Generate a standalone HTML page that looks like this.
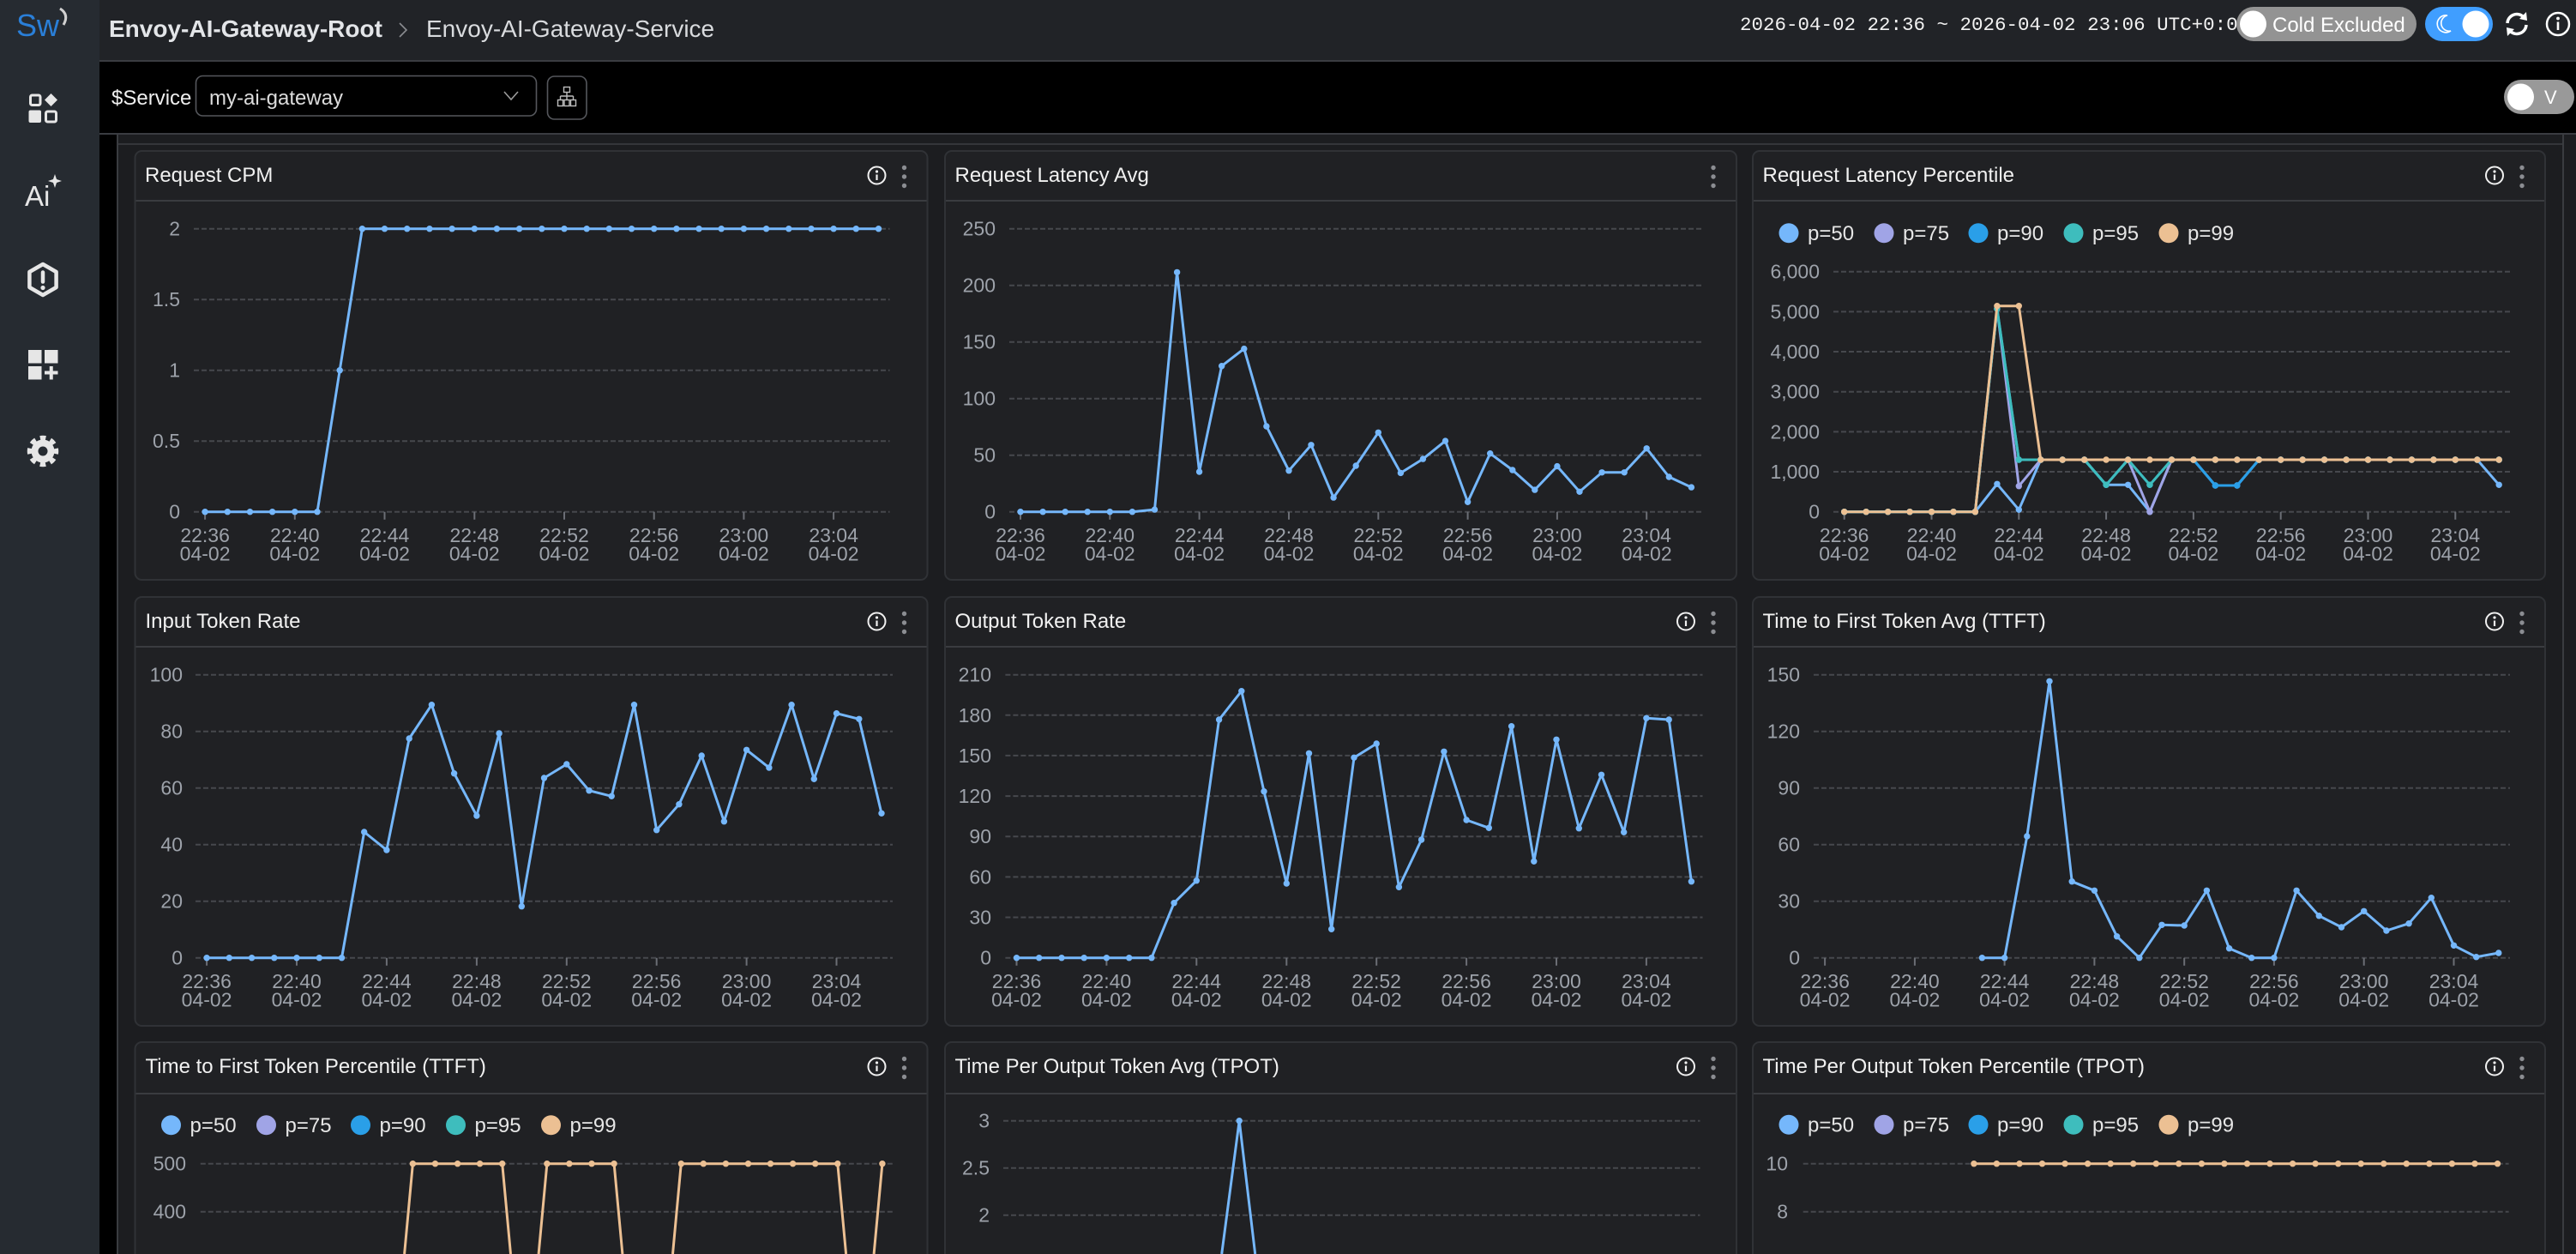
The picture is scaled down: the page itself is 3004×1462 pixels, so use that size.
<!DOCTYPE html>
<html><head><meta charset="utf-8"><style>
html,body{margin:0;padding:0;background:#000;width:3004px;height:1462px;overflow:hidden}
svg{display:block}
text{font-family:"Liberation Sans",Arial,sans-serif}
.t{font-size:24px;fill:#f1f1f1}
.ar{font-size:23px;fill:#9da2aa;text-anchor:end}
.am{font-size:23px;fill:#9da2aa;text-anchor:middle}
.g{stroke:#46484d;stroke-width:2;stroke-dasharray:6 3;fill:none}
.k{stroke:#6b6e75;stroke-width:2;fill:none}
.lg{font-size:24px;fill:#e6e6e6}
.pn{fill:#202124;stroke:#303236;stroke-width:2}
.sp{fill:#3a3c40}
.s1{fill:none;stroke:#75b7fb;stroke-width:3;stroke-linejoin:round;marker-start:url(#m1);marker-mid:url(#m1);marker-end:url(#m1)}
.s2{fill:none;stroke:#a0a4e6;stroke-width:3;stroke-linejoin:round;marker-start:url(#m2);marker-mid:url(#m2);marker-end:url(#m2)}
.s3{fill:none;stroke:#2a9fe8;stroke-width:3;stroke-linejoin:round;marker-start:url(#m3);marker-mid:url(#m3);marker-end:url(#m3)}
.s4{fill:none;stroke:#3ebdbd;stroke-width:3;stroke-linejoin:round;marker-start:url(#m4);marker-mid:url(#m4);marker-end:url(#m4)}
.s5{fill:none;stroke:#ecc093;stroke-width:3;stroke-linejoin:round;marker-start:url(#m5);marker-mid:url(#m5);marker-end:url(#m5)}
.l5{fill:none;stroke:#ecc093;stroke-width:3;stroke-linejoin:round}
.l1{fill:none;stroke:#75b7fb;stroke-width:3;stroke-linejoin:round}
</style></head><body>
<svg width="3004" height="1462" viewBox="0 0 3004 1462" xmlns="http://www.w3.org/2000/svg">
<defs>
<marker id="m1" viewBox="0 0 10 10" refX="5" refY="5" markerWidth="10" markerHeight="10" markerUnits="userSpaceOnUse"><circle cx="5" cy="5" r="3.7" fill="#75b7fb"/></marker>
<marker id="m2" viewBox="0 0 10 10" refX="5" refY="5" markerWidth="10" markerHeight="10" markerUnits="userSpaceOnUse"><circle cx="5" cy="5" r="3.7" fill="#a0a4e6"/></marker>
<marker id="m3" viewBox="0 0 10 10" refX="5" refY="5" markerWidth="10" markerHeight="10" markerUnits="userSpaceOnUse"><circle cx="5" cy="5" r="3.7" fill="#2a9fe8"/></marker>
<marker id="m4" viewBox="0 0 10 10" refX="5" refY="5" markerWidth="10" markerHeight="10" markerUnits="userSpaceOnUse"><circle cx="5" cy="5" r="3.7" fill="#3ebdbd"/></marker>
<marker id="m5" viewBox="0 0 10 10" refX="5" refY="5" markerWidth="10" markerHeight="10" markerUnits="userSpaceOnUse"><circle cx="5" cy="5" r="3.7" fill="#ecc093"/></marker>
<g id="inf"><circle r="10" fill="none" stroke="#f0f0f0" stroke-width="2"/><circle cy="-4.5" r="1.6" fill="#f0f0f0"/><path d="M0 -1V5.5" stroke="#f0f0f0" stroke-width="2.2"/></g>
<g id="dt"><circle cy="-10.5" r="2.7" fill="#8b8d92"/><circle r="2.7" fill="#8b8d92"/><circle cy="10.5" r="2.7" fill="#8b8d92"/></g>
</defs>

<!-- backgrounds -->
<rect width="3004" height="1462" fill="#000"/>
<rect x="0" y="0" width="116" height="1462" fill="#262b31"/>
<rect x="116" y="0" width="2888" height="70" fill="#212327"/>
<rect x="116" y="70" width="2888" height="2" fill="#3a3c41"/>
<rect x="116" y="155" width="2888" height="2" fill="#3a3c41"/>
<rect x="136" y="157" width="2868" height="1305" fill="#1c1d20"/>
<rect x="136" y="157" width="2" height="1305" fill="#3a3c40"/>
<rect x="138" y="167" width="2851" height="2" fill="#34363a"/>
<rect x="2988" y="157" width="2" height="1305" fill="#3a3c40"/>

<!-- sidebar -->
<text x="19" y="42" style="font-size:36px;fill:#2a7fd8;font-family:'Liberation Sans',Arial,sans-serif">Sw</text>
<path d="M70 10 Q81 17 74 29" stroke="#d0d0d0" stroke-width="3" fill="none"/>
<rect x="35.5" y="111" width="11.5" height="11.5" rx="2" fill="none" stroke="#e6e6e6" stroke-width="3"/>
<path d="M59.5 109 L67 116.5 L59.5 124 L52 116.5Z" fill="#e6e6e6"/>
<rect x="33.5" y="128.5" width="14.5" height="14.5" rx="2" fill="#e6e6e6"/>
<rect x="53.5" y="130" width="12" height="12" rx="2" fill="none" stroke="#e6e6e6" stroke-width="3"/>
<text x="29" y="240" style="font-size:33px;fill:#e6e6e6">Ai</text>
<path d="M64 203 L66 209 L72 211 L66 213 L64 219 L62 213 L56 211 L62 209Z" fill="#e6e6e6"/>
<path d="M50 308 L65.6 317 L65.6 335 L50 344 L34.4 335 L34.4 317Z" fill="none" stroke="#e6e6e6" stroke-width="4.5" stroke-linejoin="round"/>
<path d="M50 317.5V328.5" stroke="#e6e6e6" stroke-width="4.5" stroke-linecap="round"/>
<circle cx="50" cy="335.5" r="2.6" fill="#e6e6e6"/>
<rect x="33" y="408" width="15.5" height="15.5" fill="#e6e6e6"/>
<rect x="52" y="408" width="15.5" height="15.5" fill="#e6e6e6"/>
<rect x="33" y="427" width="15.5" height="15.5" fill="#e6e6e6"/>
<path d="M52 434.5H67.5M59.75 427V442.5" stroke="#e6e6e6" stroke-width="4"/>
<circle cx="50" cy="526" r="15.5" fill="none" stroke="#e6e6e6" stroke-width="5.5" stroke-dasharray="6.5 5.67" stroke-dashoffset="3.25"/>
<circle cx="50" cy="526" r="13.5" fill="#e6e6e6"/>
<circle cx="50" cy="526" r="5.5" fill="#262b31"/>

<!-- header -->
<text x="127" y="43" style="font-size:28px;font-weight:bold;fill:#e3e5e8">Envoy-AI-Gateway-Root</text>
<path d="M466 27 L474 35 L466 43" stroke="#8a8c90" stroke-width="1.6" fill="none"/>
<text x="497" y="43" style="font-size:28px;fill:#d9dbde">Envoy-AI-Gateway-Service</text>
<text x="2029" y="35" style="font-size:22.5px;fill:#f2f2f2;font-family:'Liberation Mono',monospace">2026-04-02 22:36 ~ 2026-04-02 23:06 UTC+0:0</text>
<rect x="2608" y="8" width="210" height="40" rx="20" fill="#939393"/>
<circle cx="2627.5" cy="28" r="15.5" fill="#fff"/>
<text x="2650" y="37" style="font-size:24px;fill:#fff">Cold Excluded</text>
<rect x="2828" y="8" width="79" height="40" rx="20" fill="#409eff"/>
<path d="M2854 18 A10 10 0 1 0 2858 36 A8 8 0 1 1 2854 18Z" fill="none" stroke="#fff" stroke-width="1.6"/>
<circle cx="2887" cy="28" r="15.5" fill="#fff"/>
<path d="M2924 27 A11 11 0 0 1 2943 20" stroke="#fff" stroke-width="3.5" fill="none"/>
<path d="M2946 14 L2947 24 L2938 22Z" fill="#fff"/>
<path d="M2946 29 A11 11 0 0 1 2927 36" stroke="#fff" stroke-width="3.5" fill="none"/>
<path d="M2924 42 L2923 32 L2932 34Z" fill="#fff"/>
<circle cx="2983" cy="28" r="13" fill="none" stroke="#fff" stroke-width="2.5"/>
<circle cx="2983" cy="21.5" r="1.9" fill="#fff"/>
<path d="M2983 25.5V35" stroke="#fff" stroke-width="2.6"/>

<!-- toolbar -->
<text x="130" y="122" style="font-size:24px;fill:#f0f0f0">$Service</text>
<rect x="228.5" y="88.5" width="397" height="46.5" rx="8" fill="#000" stroke="#55575c" stroke-width="1.6"/>
<text x="244" y="122" style="font-size:24px;fill:#dcdcdc">my-ai-gateway</text>
<path d="M588 107 L596 116 L604 107" stroke="#9a9a9a" stroke-width="1.6" fill="none"/>
<rect x="638.5" y="89" width="45.5" height="50" rx="8" fill="#000" stroke="#55575c" stroke-width="1.6"/>
<g stroke="#bdbdbd" stroke-width="1.4" fill="none">
<rect x="657.5" y="101.5" width="7" height="6"/>
<path d="M661 107.5V112M653.5 112H668.5M653.5 112V116M661 112V116M668.5 112V116"/>
<rect x="650.5" y="116.5" width="6" height="7"/><rect x="658" y="116.5" width="6" height="7"/><rect x="665.5" y="116.5" width="6" height="7"/>
</g>
<rect x="2920" y="93" width="82" height="40" rx="20" fill="#999"/>
<circle cx="2939.5" cy="113" r="15.5" fill="#fff"/>
<text x="2967" y="121" style="font-size:22px;fill:#fff">V</text>

<!-- panels -->
<rect class="pn" x="157.5" y="176" width="924" height="500" rx="8"/>
<rect class="pn" x="1102" y="176" width="923" height="500" rx="8"/>
<rect class="pn" x="2044" y="176" width="924" height="500" rx="8"/>
<rect class="pn" x="157.5" y="696" width="924" height="500" rx="8"/>
<rect class="pn" x="1102" y="696" width="923" height="500" rx="8"/>
<rect class="pn" x="2044" y="696" width="924" height="500" rx="8"/>
<path class="pn" d="M157.5 1462V1223A8 8 0 0 1 165.5 1215H1073.5A8 8 0 0 1 1081.5 1223V1462"/>
<path class="pn" d="M1102 1462V1223A8 8 0 0 1 1110 1215H2017A8 8 0 0 1 2025 1223V1462"/>
<path class="pn" d="M2044 1462V1223A8 8 0 0 1 2052 1215H2960A8 8 0 0 1 2968 1223V1462"/>
<rect class="sp" x="158.5" y="233" width="922" height="2"/>
<rect class="sp" x="1103" y="233" width="921" height="2"/>
<rect class="sp" x="2045" y="233" width="922" height="2"/>
<rect class="sp" x="158.5" y="753" width="922" height="2"/>
<rect class="sp" x="1103" y="753" width="921" height="2"/>
<rect class="sp" x="2045" y="753" width="922" height="2"/>
<rect class="sp" x="158.5" y="1274" width="922" height="2"/>
<rect class="sp" x="1103" y="1274" width="921" height="2"/>
<rect class="sp" x="2045" y="1274" width="922" height="2"/>

<text class="t" x="169" y="212">Request CPM</text>
<text class="t" x="1113.5" y="212">Request Latency Avg</text>
<text class="t" x="2055.5" y="212">Request Latency Percentile</text>
<text class="t" x="169.5" y="732">Input Token Rate</text>
<text class="t" x="1113.5" y="732">Output Token Rate</text>
<text class="t" x="2055.5" y="732">Time to First Token Avg (TTFT)</text>
<text class="t" x="169.5" y="1251">Time to First Token Percentile (TTFT)</text>
<text class="t" x="1113.5" y="1251">Time Per Output Token Avg (TPOT)</text>
<text class="t" x="2055.5" y="1251">Time Per Output Token Percentile (TPOT)</text>

<use href="#inf" x="1022.5" y="204.5"/><use href="#dt" x="1054.5" y="206"/>
<use href="#dt" x="1998" y="206"/>
<use href="#inf" x="2909" y="204.5"/><use href="#dt" x="2941" y="206"/>
<use href="#inf" x="1022.5" y="724.5"/><use href="#dt" x="1054.5" y="726"/>
<use href="#inf" x="1966" y="724.5"/><use href="#dt" x="1998" y="726"/>
<use href="#inf" x="2909" y="724.5"/><use href="#dt" x="2941" y="726"/>
<use href="#inf" x="1022.5" y="1243.5"/><use href="#dt" x="1054.5" y="1245"/>
<use href="#inf" x="1966" y="1243.5"/><use href="#dt" x="1998" y="1245"/>
<use href="#inf" x="2909" y="1243.5"/><use href="#dt" x="2941" y="1245"/>

<!-- legends -->
<g>
<circle cx="2086" cy="271.7" r="11.5" fill="#75b7fb"/><text class="lg" x="2108" y="280">p=50</text>
<circle cx="2197" cy="271.7" r="11.5" fill="#a0a4e6"/><text class="lg" x="2219" y="280">p=75</text>
<circle cx="2307" cy="271.7" r="11.5" fill="#2a9fe8"/><text class="lg" x="2329" y="280">p=90</text>
<circle cx="2418" cy="271.7" r="11.5" fill="#3ebdbd"/><text class="lg" x="2440" y="280">p=95</text>
<circle cx="2529" cy="271.7" r="11.5" fill="#ecc093"/><text class="lg" x="2551" y="280">p=99</text>
</g>
<g>
<circle cx="199.5" cy="1311.7" r="11.5" fill="#75b7fb"/><text class="lg" x="221.5" y="1320">p=50</text>
<circle cx="310.5" cy="1311.7" r="11.5" fill="#a0a4e6"/><text class="lg" x="332.5" y="1320">p=75</text>
<circle cx="420.5" cy="1311.7" r="11.5" fill="#2a9fe8"/><text class="lg" x="442.5" y="1320">p=90</text>
<circle cx="531.5" cy="1311.7" r="11.5" fill="#3ebdbd"/><text class="lg" x="553.5" y="1320">p=95</text>
<circle cx="642.5" cy="1311.7" r="11.5" fill="#ecc093"/><text class="lg" x="664.5" y="1320">p=99</text>
</g>
<g>
<circle cx="2086" cy="1311.2" r="11.5" fill="#75b7fb"/><text class="lg" x="2108" y="1319.5">p=50</text>
<circle cx="2197" cy="1311.2" r="11.5" fill="#a0a4e6"/><text class="lg" x="2219" y="1319.5">p=75</text>
<circle cx="2307" cy="1311.2" r="11.5" fill="#2a9fe8"/><text class="lg" x="2329" y="1319.5">p=90</text>
<circle cx="2418" cy="1311.2" r="11.5" fill="#3ebdbd"/><text class="lg" x="2440" y="1319.5">p=95</text>
<circle cx="2529" cy="1311.2" r="11.5" fill="#ecc093"/><text class="lg" x="2551" y="1319.5">p=99</text>
</g>

<!-- P1 -->
<path class="g" d="M226 266.7H1037.5M226 349.2H1037.5M226 431.7H1037.5M226 514.2H1037.5M226 596.7H1037.5"/>
<path class="k" d="M239.1 596.7v9M343.8 596.7v9M448.5 596.7v9M553.3 596.7v9M658 596.7v9M762.7 596.7v9M867.4 596.7v9M972.1 596.7v9"/>
<text class="ar" x="210" y="274.7">2</text><text class="ar" x="210" y="357.2">1.5</text><text class="ar" x="210" y="439.7">1</text><text class="ar" x="210" y="522.2">0.5</text><text class="ar" x="210" y="604.7">0</text>
<g>
<text class="am" x="239.1" y="632">22:36</text><text class="am" x="239.1" y="653.3">04-02</text>
<text class="am" x="343.8" y="632">22:40</text><text class="am" x="343.8" y="653.3">04-02</text>
<text class="am" x="448.5" y="632">22:44</text><text class="am" x="448.5" y="653.3">04-02</text>
<text class="am" x="553.3" y="632">22:48</text><text class="am" x="553.3" y="653.3">04-02</text>
<text class="am" x="658" y="632">22:52</text><text class="am" x="658" y="653.3">04-02</text>
<text class="am" x="762.7" y="632">22:56</text><text class="am" x="762.7" y="653.3">04-02</text>
<text class="am" x="867.4" y="632">23:00</text><text class="am" x="867.4" y="653.3">04-02</text>
<text class="am" x="972.1" y="632">23:04</text><text class="am" x="972.1" y="653.3">04-02</text>
</g>
<polyline class="s1" points="239.1,596.7 265.3,596.7 291.5,596.7 317.6,596.7 343.8,596.7 370,596.7 396.2,431.7 422.4,266.7 448.5,266.7 474.7,266.7 500.9,266.7 527.1,266.7 553.3,266.7 579.4,266.7 605.6,266.7 631.8,266.7 658,266.7 684.2,266.7 710.3,266.7 736.5,266.7 762.7,266.7 788.9,266.7 815.1,266.7 841.2,266.7 867.4,266.7 893.6,266.7 919.8,266.7 946,266.7 972.1,266.7 998.3,266.7 1024.5,266.7"/>

<!-- P2 -->
<path class="g" d="M1177 266.7H1985.5M1177 332.7H1985.5M1177 398.7H1985.5M1177 464.7H1985.5M1177 530.7H1985.5M1177 596.7H1985.5"/>
<path class="k" d="M1190 596.7v9M1294.3 596.7v9M1398.6 596.7v9M1503 596.7v9M1607.3 596.7v9M1711.6 596.7v9M1815.9 596.7v9M1920.2 596.7v9"/>
<text class="ar" x="1161" y="274.7">250</text><text class="ar" x="1161" y="340.7">200</text><text class="ar" x="1161" y="406.7">150</text><text class="ar" x="1161" y="472.7">100</text><text class="ar" x="1161" y="538.7">50</text><text class="ar" x="1161" y="604.7">0</text>
<g>
<text class="am" x="1190" y="632">22:36</text><text class="am" x="1190" y="653.3">04-02</text>
<text class="am" x="1294.3" y="632">22:40</text><text class="am" x="1294.3" y="653.3">04-02</text>
<text class="am" x="1398.6" y="632">22:44</text><text class="am" x="1398.6" y="653.3">04-02</text>
<text class="am" x="1503" y="632">22:48</text><text class="am" x="1503" y="653.3">04-02</text>
<text class="am" x="1607.3" y="632">22:52</text><text class="am" x="1607.3" y="653.3">04-02</text>
<text class="am" x="1711.6" y="632">22:56</text><text class="am" x="1711.6" y="653.3">04-02</text>
<text class="am" x="1815.9" y="632">23:00</text><text class="am" x="1815.9" y="653.3">04-02</text>
<text class="am" x="1920.2" y="632">23:04</text><text class="am" x="1920.2" y="653.3">04-02</text>
</g>
<polyline class="s1" points="1190,596.7 1216.1,596.7 1242.2,596.7 1268.2,596.7 1294.3,596.7 1320.4,596.7 1346.5,594.1 1372.6,317.4 1398.6,550 1424.7,426.7 1450.8,406.6 1476.9,497 1503,548.7 1529,518.8 1555.1,580.1 1581.2,543 1607.3,504.3 1633.4,551.4 1659.4,535.1 1685.5,514.1 1711.6,585.3 1737.7,528.7 1763.8,548 1789.8,571.1 1815.9,543.6 1842,573.3 1868.1,550.8 1894.2,550.8 1920.2,522.8 1946.3,556 1972.4,568.1"/>

<!-- P3 -->
<path class="g" d="M2138 316.7H2927M2138 363.4H2927M2138 410H2927M2138 456.7H2927M2138 503.4H2927M2138 550H2927M2138 596.7H2927"/>
<path class="k" d="M2150.7 596.7v9M2252.5 596.7v9M2354.3 596.7v9M2456.1 596.7v9M2557.9 596.7v9M2659.7 596.7v9M2761.5 596.7v9M2863.3 596.7v9"/>
<text class="ar" x="2122" y="324.7">6,000</text><text class="ar" x="2122" y="371.4">5,000</text><text class="ar" x="2122" y="418">4,000</text><text class="ar" x="2122" y="464.7">3,000</text><text class="ar" x="2122" y="511.4">2,000</text><text class="ar" x="2122" y="558">1,000</text><text class="ar" x="2122" y="604.7">0</text>
<g>
<text class="am" x="2150.7" y="632">22:36</text><text class="am" x="2150.7" y="653.3">04-02</text>
<text class="am" x="2252.5" y="632">22:40</text><text class="am" x="2252.5" y="653.3">04-02</text>
<text class="am" x="2354.3" y="632">22:44</text><text class="am" x="2354.3" y="653.3">04-02</text>
<text class="am" x="2456.1" y="632">22:48</text><text class="am" x="2456.1" y="653.3">04-02</text>
<text class="am" x="2557.9" y="632">22:52</text><text class="am" x="2557.9" y="653.3">04-02</text>
<text class="am" x="2659.7" y="632">22:56</text><text class="am" x="2659.7" y="653.3">04-02</text>
<text class="am" x="2761.5" y="632">23:00</text><text class="am" x="2761.5" y="653.3">04-02</text>
<text class="am" x="2863.3" y="632">23:04</text><text class="am" x="2863.3" y="653.3">04-02</text>
</g>
<polyline class="s1" points="2150.7,596.7 2176.2,596.7 2201.6,596.7 2227.1,596.7 2252.5,596.7 2278,596.7 2303.4,596.7 2328.9,564.3 2354.3,594.3 2379.8,536 2405.2,536 2430.7,536 2456.1,565.3 2481.6,565.3 2507,596.7 2532.5,536 2557.9,536 2583.4,566 2608.8,566 2634.3,536 2659.7,536 2685.2,536 2710.6,536 2736.1,536 2761.5,536 2787,536 2812.4,536 2837.9,536 2863.3,536 2888.8,536 2914.2,565.3"/>
<polyline class="s2" points="2150.7,596.7 2176.2,596.7 2201.6,596.7 2227.1,596.7 2252.5,596.7 2278,596.7 2303.4,596.7 2328.9,360 2354.3,566.7 2379.8,536 2405.2,536 2430.7,536 2456.1,565.3 2481.6,536 2507,596.7 2532.5,536 2557.9,536 2583.4,536 2608.8,536 2634.3,536 2659.7,536 2685.2,536 2710.6,536 2736.1,536 2761.5,536 2787,536 2812.4,536 2837.9,536 2863.3,536 2888.8,536 2914.2,536"/>
<polyline class="s3" points="2150.7,596.7 2176.2,596.7 2201.6,596.7 2227.1,596.7 2252.5,596.7 2278,596.7 2303.4,596.7 2328.9,360 2354.3,536 2379.8,536 2405.2,536 2430.7,536 2456.1,565.3 2481.6,536 2507,565.3 2532.5,536 2557.9,536 2583.4,566 2608.8,566 2634.3,536 2659.7,536 2685.2,536 2710.6,536 2736.1,536 2761.5,536 2787,536 2812.4,536 2837.9,536 2863.3,536 2888.8,536 2914.2,536"/>
<polyline class="s4" points="2150.7,596.7 2176.2,596.7 2201.6,596.7 2227.1,596.7 2252.5,596.7 2278,596.7 2303.4,596.7 2328.9,360 2354.3,536 2379.8,536 2405.2,536 2430.7,536 2456.1,565.3 2481.6,536 2507,565.3 2532.5,536 2557.9,536 2583.4,536 2608.8,536 2634.3,536 2659.7,536 2685.2,536 2710.6,536 2736.1,536 2761.5,536 2787,536 2812.4,536 2837.9,536 2863.3,536 2888.8,536 2914.2,536"/>
<polyline class="s5" points="2150.7,596.7 2176.2,596.7 2201.6,596.7 2227.1,596.7 2252.5,596.7 2278,596.7 2303.4,596.7 2328.9,356.7 2354.3,356.7 2379.8,536 2405.2,536 2430.7,536 2456.1,536 2481.6,536 2507,536 2532.5,536 2557.9,536 2583.4,536 2608.8,536 2634.3,536 2659.7,536 2685.2,536 2710.6,536 2736.1,536 2761.5,536 2787,536 2812.4,536 2837.9,536 2863.3,536 2888.8,536 2914.2,536"/>

<!-- P4 -->
<path class="g" d="M228 786.7H1041M228 852.7H1041M228 918.7H1041M228 984.7H1041M228 1050.7H1041M228 1116.7H1041"/>
<path class="k" d="M241.1 1116.7v9M346 1116.7v9M450.9 1116.7v9M555.9 1116.7v9M660.8 1116.7v9M765.7 1116.7v9M870.6 1116.7v9M975.5 1116.7v9"/>
<text class="ar" x="213" y="794.7">100</text><text class="ar" x="213" y="860.7">80</text><text class="ar" x="213" y="926.7">60</text><text class="ar" x="213" y="992.7">40</text><text class="ar" x="213" y="1058.7">20</text><text class="ar" x="213" y="1124.7">0</text>
<g>
<text class="am" x="241.1" y="1152">22:36</text><text class="am" x="241.1" y="1173.3">04-02</text>
<text class="am" x="346" y="1152">22:40</text><text class="am" x="346" y="1173.3">04-02</text>
<text class="am" x="450.9" y="1152">22:44</text><text class="am" x="450.9" y="1173.3">04-02</text>
<text class="am" x="555.9" y="1152">22:48</text><text class="am" x="555.9" y="1173.3">04-02</text>
<text class="am" x="660.8" y="1152">22:52</text><text class="am" x="660.8" y="1173.3">04-02</text>
<text class="am" x="765.7" y="1152">22:56</text><text class="am" x="765.7" y="1173.3">04-02</text>
<text class="am" x="870.6" y="1152">23:00</text><text class="am" x="870.6" y="1173.3">04-02</text>
<text class="am" x="975.5" y="1152">23:04</text><text class="am" x="975.5" y="1173.3">04-02</text>
</g>
<polyline class="s1" points="241.1,1116.7 267.3,1116.7 293.6,1116.7 319.8,1116.7 346,1116.7 372.3,1116.7 398.5,1116.7 424.7,970 450.9,991 477.2,861 503.4,821.7 529.6,901.7 555.9,951 582.1,855 608.3,1056.7 634.5,907 660.8,891 687,921.7 713.2,928.3 739.5,821.7 765.7,967.7 791.9,937.7 818.2,881 844.4,957.7 870.6,874.3 896.9,895 923.1,821.7 949.3,908.3 975.5,831.7 1001.8,838.3 1028,948.3"/>

<!-- P5 -->
<path class="g" d="M1172.4 786.7H1985.5M1172.4 833.8H1985.5M1172.4 880.9H1985.5M1172.4 928.1H1985.5M1172.4 975.2H1985.5M1172.4 1022.4H1985.5M1172.4 1069.5H1985.5M1172.4 1116.7H1985.5"/>
<path class="k" d="M1185.5 1116.7v9M1290.4 1116.7v9M1395.3 1116.7v9M1500.3 1116.7v9M1605.2 1116.7v9M1710.1 1116.7v9M1815 1116.7v9M1919.9 1116.7v9"/>
<text class="ar" x="1156" y="794.7">210</text><text class="ar" x="1156" y="841.8">180</text><text class="ar" x="1156" y="888.9">150</text><text class="ar" x="1156" y="936.1">120</text><text class="ar" x="1156" y="983.2">90</text><text class="ar" x="1156" y="1030.4">60</text><text class="ar" x="1156" y="1077.5">30</text><text class="ar" x="1156" y="1124.7">0</text>
<g>
<text class="am" x="1185.5" y="1152">22:36</text><text class="am" x="1185.5" y="1173.3">04-02</text>
<text class="am" x="1290.4" y="1152">22:40</text><text class="am" x="1290.4" y="1173.3">04-02</text>
<text class="am" x="1395.3" y="1152">22:44</text><text class="am" x="1395.3" y="1173.3">04-02</text>
<text class="am" x="1500.3" y="1152">22:48</text><text class="am" x="1500.3" y="1173.3">04-02</text>
<text class="am" x="1605.2" y="1152">22:52</text><text class="am" x="1605.2" y="1173.3">04-02</text>
<text class="am" x="1710.1" y="1152">22:56</text><text class="am" x="1710.1" y="1173.3">04-02</text>
<text class="am" x="1815" y="1152">23:00</text><text class="am" x="1815" y="1173.3">04-02</text>
<text class="am" x="1919.9" y="1152">23:04</text><text class="am" x="1919.9" y="1173.3">04-02</text>
</g>
<polyline class="s1" points="1185.5,1116.7 1211.7,1116.7 1238,1116.7 1264.2,1116.7 1290.4,1116.7 1316.7,1116.7 1342.9,1116.7 1369.1,1052.7 1395.3,1026.7 1421.6,839 1447.8,805.7 1474,922.7 1500.3,1030 1526.5,878.3 1552.7,1083.3 1579,883.3 1605.2,867 1631.4,1034.3 1657.6,979 1683.9,876.3 1710.1,956 1736.3,965.3 1762.6,846.7 1788.8,1004.3 1815,862.3 1841.3,965.7 1867.5,903.3 1893.7,970.3 1919.9,837.3 1946.2,839 1972.4,1027.7"/>

<!-- P6 -->
<path class="g" d="M2115 786.7H2927M2115 852.7H2927M2115 918.7H2927M2115 984.7H2927M2115 1050.7H2927M2115 1116.7H2927"/>
<path class="k" d="M2128.1 1116.7v9M2232.9 1116.7v9M2337.6 1116.7v9M2442.4 1116.7v9M2547.2 1116.7v9M2651.9 1116.7v9M2756.7 1116.7v9M2861.5 1116.7v9"/>
<text class="ar" x="2099" y="794.7">150</text><text class="ar" x="2099" y="860.7">120</text><text class="ar" x="2099" y="926.7">90</text><text class="ar" x="2099" y="992.7">60</text><text class="ar" x="2099" y="1058.7">30</text><text class="ar" x="2099" y="1124.7">0</text>
<g>
<text class="am" x="2128.1" y="1152">22:36</text><text class="am" x="2128.1" y="1173.3">04-02</text>
<text class="am" x="2232.9" y="1152">22:40</text><text class="am" x="2232.9" y="1173.3">04-02</text>
<text class="am" x="2337.6" y="1152">22:44</text><text class="am" x="2337.6" y="1173.3">04-02</text>
<text class="am" x="2442.4" y="1152">22:48</text><text class="am" x="2442.4" y="1173.3">04-02</text>
<text class="am" x="2547.2" y="1152">22:52</text><text class="am" x="2547.2" y="1173.3">04-02</text>
<text class="am" x="2651.9" y="1152">22:56</text><text class="am" x="2651.9" y="1173.3">04-02</text>
<text class="am" x="2756.7" y="1152">23:00</text><text class="am" x="2756.7" y="1173.3">04-02</text>
<text class="am" x="2861.5" y="1152">23:04</text><text class="am" x="2861.5" y="1173.3">04-02</text>
</g>
<polyline class="s1" points="2311.4,1116.7 2337.6,1116.7 2363.8,975 2390,794.3 2416.2,1027.7 2442.4,1038.3 2468.6,1091.7 2494.8,1116.7 2521,1078.3 2547.2,1079 2573.4,1038.3 2599.6,1105.7 2625.7,1116.7 2651.9,1116.7 2678.1,1038.3 2704.3,1067.7 2730.5,1081 2756.7,1062.3 2782.9,1085 2809.1,1076.7 2835.3,1046.7 2861.5,1102.3 2887.7,1115.7 2913.8,1111"/>

<!-- P7 -->
<path class="g" d="M233.8 1356.7H1042M233.8 1412.7H1042"/>
<text class="ar" x="217" y="1364.7">500</text><text class="ar" x="217" y="1420.7">400</text>
<path class="l5" d="M471.6 1462L481.4 1356.7H585.7L595.5 1462M628.1 1462L637.9 1356.7H716.1L725.9 1462M784.5 1462L794.3 1356.7H976.8L986.6 1462M1019.1 1462L1028.9 1356.7"/>
<g fill="#ecc093">
<circle cx="481.4" cy="1356.7" r="3.7"/><circle cx="507.5" cy="1356.7" r="3.7"/><circle cx="533.6" cy="1356.7" r="3.7"/><circle cx="559.6" cy="1356.7" r="3.7"/><circle cx="585.7" cy="1356.7" r="3.7"/>
<circle cx="637.9" cy="1356.7" r="3.7"/><circle cx="663.9" cy="1356.7" r="3.7"/><circle cx="690" cy="1356.7" r="3.7"/><circle cx="716.1" cy="1356.7" r="3.7"/>
<circle cx="794.3" cy="1356.7" r="3.7"/><circle cx="820.3" cy="1356.7" r="3.7"/><circle cx="846.4" cy="1356.7" r="3.7"/><circle cx="872.5" cy="1356.7" r="3.7"/><circle cx="898.5" cy="1356.7" r="3.7"/><circle cx="924.6" cy="1356.7" r="3.7"/><circle cx="950.7" cy="1356.7" r="3.7"/><circle cx="976.8" cy="1356.7" r="3.7"/>
<circle cx="1028.9" cy="1356.7" r="3.7"/>
</g>

<!-- P8 -->
<path class="g" d="M1170 1306.7H1982.5M1170 1361.7H1982.5M1170 1416.7H1982.5"/>
<text class="ar" x="1154" y="1314.7">3</text><text class="ar" x="1154" y="1369.7">2.5</text><text class="ar" x="1154" y="1424.7">2</text>
<path class="l1" d="M1424.7 1462L1445.2 1306.7L1463.7 1462"/>
<circle cx="1445.2" cy="1306.7" r="3.7" fill="#75b7fb"/>

<!-- P9 -->
<path class="g" d="M2102.7 1356.7H2925.6M2102.7 1412.7H2925.6"/>
<text class="ar" x="2085" y="1364.7">10</text><text class="ar" x="2085" y="1420.7">8</text>
<polyline class="s5" points="2301.9,1356.7 2328.4,1356.7 2355,1356.7 2381.5,1356.7 2408.1,1356.7 2434.6,1356.7 2461.2,1356.7 2487.7,1356.7 2514.3,1356.7 2540.8,1356.7 2567.4,1356.7 2593.9,1356.7 2620.5,1356.7 2647,1356.7 2673.6,1356.7 2700.1,1356.7 2726.7,1356.7 2753.2,1356.7 2779.8,1356.7 2806.3,1356.7 2832.9,1356.7 2859.4,1356.7 2886,1356.7 2912.5,1356.7"/>
</svg>
</body></html>
